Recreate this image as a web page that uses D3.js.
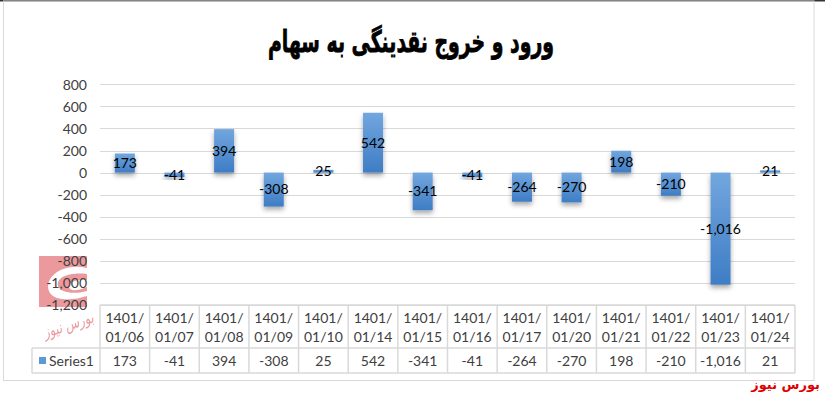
<!DOCTYPE html>
<html><head><meta charset="utf-8">
<script src="https://cdn.jsdelivr.net/npm/d3@7"></script>
<style>html,body{margin:0;padding:0;background:#fff;}svg{display:block;}</style>
</head><body>
<svg id="c" width="825" height="394"></svg>
<script>
const titleText = "ورود و خروج نقدینگی به سهام";
const categories = ["1401/01/06","1401/01/07","1401/01/08","1401/01/09","1401/01/10","1401/01/14","1401/01/15","1401/01/16","1401/01/17","1401/01/20","1401/01/21","1401/01/22","1401/01/23","1401/01/24"];
const values = [173,-41,394,-308,25,542,-341,-41,-264,-270,198,-210,-1016,21];
const seriesName = "Series1";
const yTicks = [800,600,400,200,0,-200,-400,-600,-800,-1000,-1200];
const watermark = "بورس نیوز";

const svg = d3.select("#c");
const font = "Lato, 'Open Sans', sans-serif";
const fmt = d3.formatLocale({decimal:".",thousands:",",grouping:[3],currency:["",""],minus:"-"}).format(",");

// frame
svg.append("rect").attr("x",0).attr("y",0).attr("width",825).attr("height",394).attr("fill","#fff");
svg.append("line").attr("x1",0).attr("x2",825).attr("y1",0.5).attr("y2",0.5).attr("stroke","#333").attr("stroke-width",2);
svg.append("rect").attr("x",3.5).attr("y",1).attr("width",810.5).attr("height",379.5).attr("fill","none").attr("stroke","#d9d9d9");

const defs = svg.append("defs");
const g = defs.append("linearGradient").attr("id","bg").attr("x1",0).attr("y1",0).attr("x2",0).attr("y2",1);
g.append("stop").attr("offset","0%").attr("stop-color","#72a6de");
g.append("stop").attr("offset","100%").attr("stop-color","#3e7dc5");
const f = defs.append("filter").attr("id","sh").attr("x","-50%").attr("y","-50%").attr("width","200%").attr("height","200%");
f.append("feDropShadow").attr("dx",0).attr("dy",3).attr("stdDeviation",2.5).attr("flood-color","#000").attr("flood-opacity",0.35);

// watermark logo
const wm = svg.append("g").attr("opacity",0.75);
wm.append("rect").attr("x",39).attr("y",256).attr("width",48).attr("height",51).attr("fill","#e5777c");
wm.append("path").attr("d","M87,268 C60,262 42,280 50,293 C56,302 75,300 87,296 L87,291 C72,295 60,292 58,286 C56,276 72,272 87,274 Z").attr("fill","#fff");
wm.append("path").attr("d","M87,280 C74,279 66,284 70,289 C74,292 82,289 87,287 Z").attr("fill","#fff");
wm.append("text").attr("x",0).attr("y",0).attr("transform","translate(70,330) rotate(-18)")
  .attr("text-anchor","middle").attr("font-family","'DejaVu Sans', sans-serif").attr("font-style","italic")
  .attr("font-size",16).attr("textLength",52).attr("lengthAdjust","spacingAndGlyphs")
  .attr("fill","#e5777c").text(watermark);

// title
svg.append("text").attr("x",411).attr("y",52).attr("text-anchor","middle")
  .attr("font-family","'DejaVu Sans', sans-serif").attr("font-weight","bold").attr("font-size",30)
  .attr("textLength",286).attr("lengthAdjust","spacingAndGlyphs")
  .attr("fill","#000").attr("stroke","#000").attr("stroke-width",0.8).text(titleText);

// scales
const left = 100, right = 795;
const x = d3.scaleBand().domain(categories).range([left,right]).padding(0);
const y = d3.scaleLinear().domain([-1200,800]).range([305,84.3]);

// gridlines
svg.append("g").selectAll("line").data(yTicks).join("line")
  .attr("x1",left).attr("x2",right).attr("y1",d=>Math.round(y(d))+0.5).attr("y2",d=>Math.round(y(d))+0.5)
  .attr("stroke","#d9d9d9").attr("stroke-width",1);

// y axis
const yAxis = d3.axisLeft(y).tickValues(yTicks).tickSize(0).tickPadding(0).tickFormat(fmt);
const ya = svg.append("g").attr("transform","translate(87,0)").call(yAxis);
ya.select(".domain").remove();
ya.selectAll("text").attr("font-family",font).attr("font-size",14).attr("fill","#404040").attr("dy","0.35em");

// bars
const bw = 20;
svg.append("g").selectAll("rect").data(values).join("rect")
  .attr("x",(d,i)=>x(categories[i])+x.bandwidth()/2-bw/2)
  .attr("y",d=>y(Math.max(0,d)))
  .attr("width",bw)
  .attr("height",d=>Math.abs(y(d)-y(0)))
  .attr("fill","url(#bg)").attr("filter","url(#sh)");

// data labels
svg.append("g").selectAll("text").data(values).join("text")
  .attr("x",(d,i)=>x(categories[i])+x.bandwidth()/2)
  .attr("y",d=>y(d/2))
  .attr("dy","0.35em").attr("text-anchor","middle")
  .attr("font-family",font).attr("font-size",14).attr("fill","#000")
  .text(d=>fmt(d));

// data table
const tTop = 305, tMid = 348, tBot = 373, labLeft = 32;
const tg = svg.append("g").attr("stroke","#d9d9d9").attr("stroke-width",1.5);
tg.append("line").attr("x1",left).attr("x2",right).attr("y1",tTop).attr("y2",tTop);
tg.append("line").attr("x1",labLeft).attr("x2",right).attr("y1",tMid).attr("y2",tMid);
tg.append("line").attr("x1",labLeft).attr("x2",right).attr("y1",tBot).attr("y2",tBot);
tg.append("line").attr("x1",labLeft).attr("x2",labLeft).attr("y1",tMid).attr("y2",tBot);
tg.selectAll("line.v").data(categories.concat(["end"])).join("line").attr("class","v")
  .attr("x1",(d,i)=>left+i*x.bandwidth()).attr("x2",(d,i)=>left+i*x.bandwidth())
  .attr("y1",tTop).attr("y2",tBot);

const cat = svg.append("g").selectAll("text").data(categories).join("text")
  .attr("x",d=>x(d)+x.bandwidth()/2).attr("text-anchor","middle")
  .attr("font-family",font).attr("font-size",14).attr("fill","#404040");
cat.append("tspan").attr("x",d=>x(d)+x.bandwidth()/2).attr("y",323).text(d=>d.slice(0,5));
cat.append("tspan").attr("x",d=>x(d)+x.bandwidth()/2).attr("y",342).text(d=>d.slice(5));

svg.append("g").selectAll("text").data(values).join("text")
  .attr("x",(d,i)=>x(categories[i])+x.bandwidth()/2).attr("y",366).attr("text-anchor","middle")
  .attr("font-family",font).attr("font-size",14).attr("fill","#404040").text(d=>fmt(d));

svg.append("rect").attr("x",39).attr("y",357).attr("width",7).attr("height",7).attr("fill","#5b9bd5");
svg.append("text").attr("x",49).attr("y",366).attr("font-family",font).attr("font-size",14).attr("fill","#404040").text(seriesName);

// bottom-right source
svg.append("text").attr("x",820).attr("y",389).attr("text-anchor","end")
  .attr("font-family","'DejaVu Sans', sans-serif").attr("font-weight","bold").attr("font-size",13)
  .attr("fill","#e00000").text(watermark);
</script>
</body></html>
